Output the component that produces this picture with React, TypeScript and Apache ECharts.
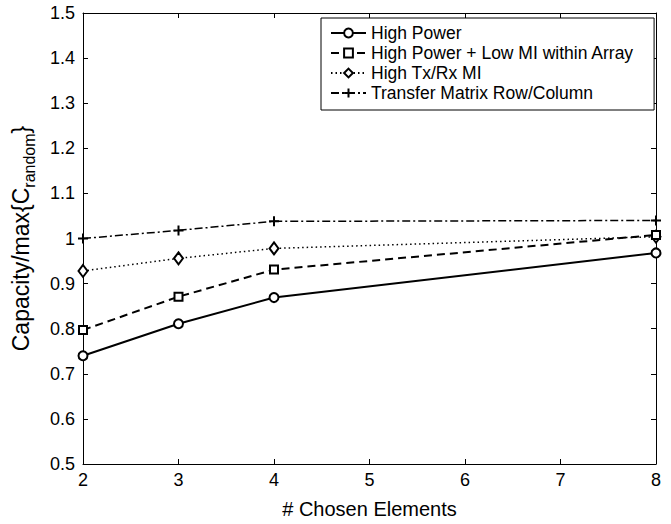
import React, { useEffect, useRef } from "react";
import * as echarts from "echarts";

const xValues = [2, 3, 4, 8];
const highPower = [0.74, 0.811, 0.869, 0.968];
const highPowerLowMI = [0.797, 0.871, 0.931, 1.008];
const highTxRxMI = [0.928, 0.956, 0.978, 1.004];
const transferMatrix = [1.0, 1.018, 1.038, 1.04];
const seriesNames = [
  "High Power",
  "High Power + Low MI within Array",
  "High Tx/Rx MI",
  "Transfer Matrix Row/Column",
];

const FONT = "'Liberation Sans', Arial, Helvetica, sans-serif";

function pairs(vals: number[]) {
  return xValues.map((x, i) => [x, vals[i]]);
}

export default function App() {
  const ref = useRef<HTMLDivElement>(null);
  useEffect(() => {
    if (!ref.current) return;
    const chart = echarts.init(ref.current, null, { renderer: "svg" });
    const axisCommon = {
      axisLine: { show: true, lineStyle: { color: "#000", width: 1 } },
      axisTick: { show: true, inside: true, length: 5, lineStyle: { color: "#000" } },
      splitLine: { show: false },
    };
    chart.setOption({
      animation: false,
      backgroundColor: "#fff",
      textStyle: { fontFamily: FONT },
      grid: { left: 83, right: 15, top: 13, bottom: 60, containLabel: false },
      legend: {
        orient: "vertical",
        left: 321,
        top: 18,
        backgroundColor: "#fff",
        borderColor: "#000",
        borderWidth: 1,
        borderRadius: 0,
        padding: [6, 20, 8, 9],
        itemWidth: 35,
        itemHeight: 11,
        itemGap: 2,
        textStyle: { fontFamily: FONT, fontSize: 17.5, color: "#000" },
        data: seriesNames,
      },
      xAxis: [
        {
          type: "value",
          min: 2,
          max: 8,
          interval: 1,
          name: "# Chosen Elements",
          nameLocation: "middle",
          nameGap: 35,
          nameTextStyle: { fontFamily: FONT, fontSize: 20, color: "#000" },
          axisLabel: { fontFamily: FONT, fontSize: 18, color: "#000", margin: 7 },
          ...axisCommon,
        },
        {
          type: "value",
          position: "top",
          min: 2,
          max: 8,
          interval: 1,
          axisLabel: { show: false },
          ...axisCommon,
        },
      ],
      yAxis: [
        {
          type: "value",
          min: 0.5,
          max: 1.5,
          interval: 0.1,
          name: "{a|Capacity/max{C}{b|random}{a|}}",
          nameLocation: "middle",
          nameGap: 46,
          nameRotate: 90,
          nameTextStyle: {
            fontFamily: FONT,
            fontSize: 23,
            color: "#000",
            rich: {
              a: { fontFamily: FONT, fontSize: 23, color: "#000", lineHeight: 32, verticalAlign: "middle" },
              b: { fontFamily: FONT, fontSize: 16, color: "#000", lineHeight: 15, verticalAlign: "bottom" },
            },
          },
          axisLabel: {
            fontFamily: FONT,
            fontSize: 18,
            color: "#000",
            margin: 8,
            formatter: (v: number) => String(parseFloat(v.toFixed(1))),
          },
          ...axisCommon,
        },
        {
          type: "value",
          position: "right",
          min: 0.5,
          max: 1.5,
          interval: 0.1,
          axisLabel: { show: false },
          ...axisCommon,
        },
      ],
      series: [
        {
          name: seriesNames[0],
          type: "line",
          data: pairs(highPower),
          symbol: "emptyCircle",
          symbolSize: 9,
          lineStyle: { color: "#000", width: 2, type: "solid" },
          itemStyle: { color: "#000", borderColor: "#000", borderWidth: 2 },
          z: 4,
        },
        {
          name: seriesNames[1],
          type: "line",
          data: pairs(highPowerLowMI),
          symbol: "emptyRect",
          symbolSize: 8,
          lineStyle: { color: "#000", width: 2, type: [8, 5] },
          itemStyle: { color: "#000", borderColor: "#000", borderWidth: 2 },
          z: 3,
        },
        {
          name: seriesNames[2],
          type: "line",
          data: pairs(highTxRxMI),
          symbol: "emptyDiamond",
          symbolSize: [9, 12],
          lineStyle: { color: "#000", width: 1.5, type: [1.5, 3] },
          itemStyle: { color: "#000", borderColor: "#000", borderWidth: 2 },
          z: 2,
        },
        {
          name: seriesNames[3],
          type: "line",
          data: pairs(transferMatrix),
          symbol: "path://M0,5L10,5M5,0L5,10",
          symbolSize: 10,
          lineStyle: { color: "#000", width: 1.5, type: [8, 3, 2, 3] },
          itemStyle: { color: "#000", borderColor: "#000", borderWidth: 2 },
          z: 1,
        },
      ],
    });
    return () => chart.dispose();
  }, []);
  return <div ref={ref} style={{ width: 671, height: 524, position: "absolute", left: 0, top: 0 }} />;
}
